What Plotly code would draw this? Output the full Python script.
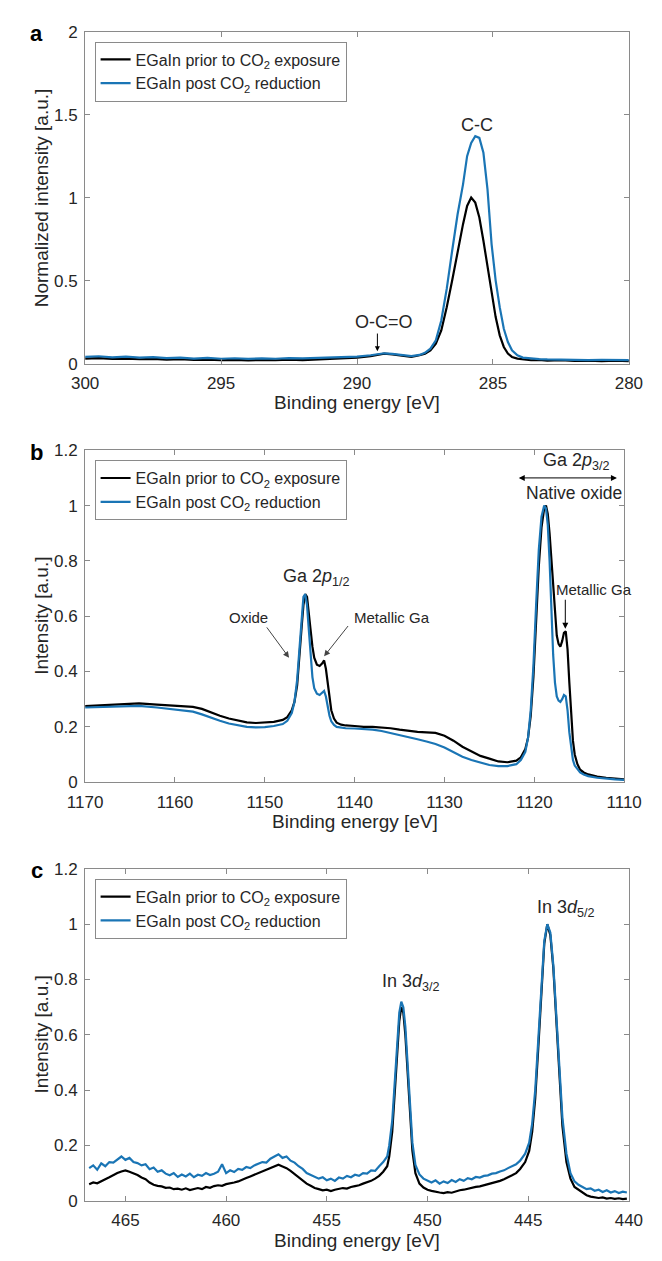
import plotly.graph_objects as go

# ---------------- Panel a: C 1s ----------------
a_x_prior = [300, 299.5, 299, 298.5, 298, 297.5, 297, 296.5, 296, 295.5, 295, 294.5, 294, 293.5, 293,
             292.5, 292, 291.5, 291, 290.5, 290, 289.5, 289.2, 289, 288.7, 288.5, 288.2, 288, 287.7,
             287.5, 287.3, 287.1, 286.9, 286.7, 286.5, 286.3, 286.1, 285.95, 285.8, 285.65, 285.5,
             285.35, 285.2, 285.05, 284.9, 284.75, 284.6, 284.45, 284.3, 284.1, 283.9, 283.6, 283.3,
             283, 282.5, 282, 281.5, 281, 280.5, 280]
a_y_prior = [0.030, 0.033, 0.028, 0.030, 0.026, 0.028, 0.024, 0.026, 0.022, 0.024, 0.020, 0.022, 0.019,
             0.022, 0.020, 0.023, 0.021, 0.025, 0.028, 0.032, 0.036, 0.045, 0.055, 0.060, 0.055, 0.050,
             0.042, 0.040, 0.050, 0.060, 0.080, 0.120, 0.200, 0.340, 0.500, 0.680, 0.840, 0.950, 1.000,
             0.970, 0.880, 0.740, 0.580, 0.420, 0.280, 0.170, 0.100, 0.060, 0.040, 0.030, 0.025, 0.020,
             0.022, 0.018, 0.020, 0.016, 0.018, 0.015, 0.017, 0.015]

a_x_post = a_x_prior
a_y_post = [0.040, 0.044, 0.038, 0.042, 0.036, 0.039, 0.033, 0.036, 0.030, 0.034, 0.029, 0.032, 0.028,
            0.031, 0.029, 0.033, 0.031, 0.034, 0.036, 0.040, 0.042, 0.050, 0.058, 0.062, 0.058, 0.055,
            0.048, 0.045, 0.052, 0.065, 0.090, 0.140, 0.260, 0.450, 0.680, 0.900, 1.080, 1.250, 1.330,
            1.370, 1.360, 1.270, 1.050, 0.720, 0.500, 0.340, 0.210, 0.130, 0.080, 0.050, 0.036, 0.030,
            0.027, 0.025, 0.023, 0.024, 0.021, 0.022, 0.020, 0.021]

# ---------------- Panel b: Ga 2p ----------------
b_x = [1170, 1168, 1166, 1164, 1162, 1160, 1158, 1157, 1156, 1155, 1154, 1153, 1152, 1151, 1150, 1149,
       1148, 1147.5, 1147, 1146.7, 1146.4, 1146.1, 1145.9, 1145.7, 1145.5, 1145.3, 1145.1, 1144.9,
       1144.7, 1144.5, 1144.2, 1143.9, 1143.6, 1143.4, 1143.2, 1143.0, 1142.8, 1142.6, 1142.3, 1142,
       1141.5, 1141, 1140, 1139, 1138, 1137, 1136, 1135, 1134, 1133, 1132, 1131, 1130, 1129, 1128,
       1127, 1126, 1125, 1124, 1123, 1122, 1121.5, 1121, 1120.7, 1120.4, 1120.1, 1119.8, 1119.5,
       1119.2, 1118.9, 1118.7, 1118.5, 1118.3, 1118.1, 1117.9, 1117.7, 1117.5, 1117.3, 1117.1,
       1116.9, 1116.7, 1116.5, 1116.3, 1116.1, 1115.9, 1115.7, 1115.5, 1115.2, 1114.9, 1114.5, 1114,
       1113, 1112, 1111, 1110]
b_y_prior = [0.275, 0.278, 0.282, 0.285, 0.280, 0.275, 0.272, 0.265, 0.252, 0.240, 0.230, 0.222, 0.216,
             0.214, 0.215, 0.218, 0.225, 0.235, 0.260, 0.290, 0.350, 0.460, 0.560, 0.640, 0.680, 0.670,
             0.620, 0.550, 0.490, 0.450, 0.425, 0.420, 0.430, 0.440, 0.410, 0.360, 0.300, 0.260, 0.230,
             0.215, 0.208, 0.205, 0.203, 0.200, 0.200, 0.198, 0.195, 0.190, 0.185, 0.182, 0.180, 0.178,
             0.168, 0.150, 0.128, 0.110, 0.095, 0.085, 0.075, 0.072, 0.078, 0.090, 0.120, 0.160, 0.240,
             0.380, 0.580, 0.780, 0.920, 0.990, 1.000, 0.970, 0.900, 0.800, 0.690, 0.600, 0.530, 0.500,
             0.490, 0.510, 0.540, 0.545, 0.480, 0.360, 0.240, 0.150, 0.100, 0.065, 0.045, 0.035, 0.028,
             0.020, 0.016, 0.012, 0.010]
b_y_post = [0.270, 0.272, 0.275, 0.276, 0.270, 0.262, 0.255, 0.245, 0.233, 0.222, 0.212, 0.205, 0.200,
            0.198, 0.199, 0.203, 0.210, 0.222, 0.250, 0.290, 0.370, 0.500, 0.600, 0.670, 0.680, 0.640,
            0.550, 0.450, 0.380, 0.340, 0.320, 0.315, 0.325, 0.330, 0.310, 0.270, 0.240, 0.220, 0.207,
            0.200, 0.197, 0.195, 0.194, 0.192, 0.190, 0.185, 0.178, 0.170, 0.163, 0.155, 0.147, 0.138,
            0.125, 0.108, 0.092, 0.080, 0.070, 0.062, 0.058, 0.058, 0.065, 0.080, 0.110, 0.160, 0.260,
            0.420, 0.640, 0.840, 0.960, 1.000, 0.990, 0.930, 0.800, 0.620, 0.460, 0.360, 0.310, 0.295,
            0.290, 0.300, 0.315, 0.310, 0.260, 0.180, 0.120, 0.080, 0.060, 0.045, 0.035, 0.028, 0.022,
            0.016, 0.012, 0.010, 0.008]

# ---------------- Panel c: In 3d ----------------
c_x = [466.8, 466.6, 466.4, 466.2, 466.0, 465.8, 465.6, 465.4, 465.2, 465.0, 464.8, 464.6, 464.4, 464.2,
       464.0, 463.8, 463.6, 463.4, 463.2, 463.0, 462.8, 462.6, 462.4, 462.2, 462.0, 461.8, 461.6, 461.4,
       461.2, 461.0, 460.8, 460.6, 460.4, 460.2, 460.0, 459.8, 459.6, 459.4, 459.2, 459.0, 458.8, 458.6,
       458.4, 458.2, 458.0, 457.8, 457.6, 457.4, 457.2, 457.0, 456.8, 456.6, 456.4, 456.2, 456.0, 455.8,
       455.6, 455.4, 455.2, 455.0, 454.8, 454.6, 454.4, 454.2, 454.0, 453.8, 453.6, 453.4, 453.2, 453.0,
       452.8, 452.6, 452.4, 452.2,
       452.0, 451.9, 451.75, 451.6, 451.5, 451.4, 451.3, 451.2, 451.1, 451.0, 450.9, 450.75, 450.6,
       450.4, 450.2, 450.0, 449.8, 449.6, 449.4, 449.2, 449.0, 448.8, 448.6, 448.4, 448.2, 448.0, 447.8,
       447.6, 447.4, 447.2, 447.0, 446.8, 446.6, 446.4, 446.2, 446.0, 445.8, 445.6,
       445.4, 445.15, 444.95, 444.8, 444.65, 444.5, 444.35, 444.2, 444.05, 443.9, 443.75, 443.6, 443.45,
       443.3, 443.1, 442.9,
       442.7, 442.5, 442.3, 442.1, 441.9, 441.7, 441.5, 441.3, 441.1, 440.9, 440.7, 440.5, 440.3, 440.1]
c_y_prior = [0.060, 0.066, 0.063, 0.072, 0.078, 0.085, 0.094, 0.100, 0.106, 0.110, 0.105, 0.100, 0.093,
             0.084, 0.078, 0.066, 0.058, 0.054, 0.052, 0.047, 0.048, 0.042, 0.044, 0.040, 0.045, 0.039,
             0.043, 0.046, 0.042, 0.050, 0.047, 0.053, 0.056, 0.054, 0.060, 0.062, 0.066, 0.070, 0.075,
             0.082, 0.088, 0.094, 0.100, 0.106, 0.112, 0.120, 0.126, 0.130, 0.124, 0.118, 0.108, 0.096,
             0.084, 0.074, 0.062, 0.054, 0.046, 0.042, 0.038, 0.040, 0.035, 0.040, 0.042, 0.046, 0.044,
             0.050, 0.053, 0.056, 0.062, 0.066, 0.072, 0.080, 0.090, 0.105,
             0.125, 0.160, 0.250, 0.420, 0.550, 0.650, 0.700, 0.680, 0.600, 0.470, 0.330, 0.180, 0.100,
             0.062, 0.048, 0.040, 0.036, 0.032, 0.030, 0.028, 0.031, 0.029, 0.034, 0.038, 0.040, 0.044,
             0.046, 0.050, 0.052, 0.056, 0.060, 0.063, 0.068, 0.072, 0.078, 0.084, 0.092, 0.100,
             0.115, 0.140, 0.180, 0.250, 0.370, 0.550, 0.760, 0.930, 1.000, 0.960, 0.840, 0.640, 0.440,
             0.270, 0.140, 0.080,
             0.050, 0.040, 0.030, 0.020, 0.015, 0.012, 0.010, 0.012, 0.008, 0.010, 0.007, 0.009, 0.006,
             0.008]
c_y_post = [0.118, 0.128, 0.112, 0.135, 0.125, 0.140, 0.138, 0.150, 0.160, 0.148, 0.155, 0.140, 0.136,
            0.128, 0.132, 0.114, 0.120, 0.105, 0.110, 0.098, 0.092, 0.100, 0.086, 0.095, 0.088, 0.098,
            0.085, 0.094, 0.090, 0.100, 0.093, 0.098, 0.105, 0.132, 0.100, 0.110, 0.104, 0.115, 0.112,
            0.122, 0.118, 0.128, 0.133, 0.140, 0.138, 0.152, 0.160, 0.168, 0.155, 0.160, 0.145, 0.138,
            0.125, 0.115, 0.100, 0.094, 0.088, 0.080, 0.085, 0.074, 0.080, 0.072, 0.084, 0.080, 0.090,
            0.085, 0.094, 0.090, 0.100, 0.098, 0.110, 0.108, 0.125, 0.140,
            0.160, 0.200, 0.290, 0.450, 0.580, 0.680, 0.720, 0.700, 0.630, 0.500, 0.360, 0.210, 0.130,
            0.095, 0.080, 0.072, 0.066, 0.074, 0.062, 0.070, 0.064, 0.075, 0.068, 0.078, 0.072, 0.082,
            0.078, 0.086, 0.084, 0.090, 0.092, 0.098, 0.100, 0.106, 0.110, 0.118, 0.124, 0.132,
            0.145, 0.170, 0.210, 0.280, 0.400, 0.580, 0.780, 0.940, 1.000, 0.970, 0.850, 0.660, 0.470,
            0.300, 0.170, 0.100,
            0.070, 0.058, 0.050, 0.042, 0.045, 0.036, 0.040, 0.032, 0.038, 0.030, 0.035, 0.028, 0.033,
            0.030]

name_prior = "EGaIn prior to CO<sub>2</sub> exposure"
name_post = "EGaIn post CO<sub>2</sub> reduction"

BLACK = "#000000"
BLUE = "#1a75b5"
AXC = "#8a8a8a"
TXT = "#262626"
FONT = "Arial, Liberation Sans, sans-serif"

W, H = 662, 1261
# pixel boxes: (left, right, top, bottom)
boxes = [(71, 646, 23, 360), (71, 641, 448, 785), (71, 646, 873, 1210)]

fig = go.Figure()

panels = [
    (a_x_prior, a_y_prior, a_x_post, a_y_post),
    (b_x, b_y_prior, b_x, b_y_post),
    (c_x, c_y_prior, c_x, c_y_post),
]
for i, (xp, yp, xq, yq) in enumerate(panels):
    sfx = "" if i == 0 else str(i + 1)
    leg = "legend" + sfx
    fig.add_trace(go.Scatter(x=xp, y=yp, mode="lines", name=name_prior,
                             line=dict(color=BLACK, width=2.2), xaxis="x" + sfx, yaxis="y" + sfx,
                             legend=leg))
    fig.add_trace(go.Scatter(x=xq, y=yq, mode="lines", name=name_post,
                             line=dict(color=BLUE, width=2.2), xaxis="x" + sfx, yaxis="y" + sfx,
                             legend=leg))

xranges = [[300, 280], [1170, 1110], [467, 440]]
xticks = [[300, 295, 290, 285, 280], [1170, 1160, 1150, 1140, 1130, 1120, 1110],
          [465, 460, 455, 450, 445, 440]]
yranges = [[0, 2], [0, 1.2], [0, 1.2]]
yticks = [[0, 0.5, 1, 1.5, 2], [0, 0.2, 0.4, 0.6, 0.8, 1, 1.2], [0, 0.2, 0.4, 0.6, 0.8, 1, 1.2]]
ytitles = ["Normalized intensity [a.u.]", "Intensity [a.u.]", "Intensity [a.u.]"]
letters = ["a", "b", "c"]

layout = dict(width=W, height=H, margin=dict(l=0, r=0, t=0, b=0),
              paper_bgcolor="white", plot_bgcolor="white", font=dict(family=FONT, color=TXT),
              showlegend=True)
annotations = []
for i, (l, r, t, b) in enumerate(boxes):
    sfx = "" if i == 0 else str(i + 1)
    common = dict(showline=True, linecolor=AXC, linewidth=1, mirror="ticks", ticks="inside",
                  ticklen=5, tickcolor=AXC, showgrid=False, zeroline=False,
                  tickfont=dict(family=FONT, size=17, color=TXT))
    layout["xaxis" + sfx] = dict(common, domain=[l / W, r / W], range=xranges[i],
                                 tickvals=xticks[i], anchor="y" + sfx, ticklabelstandoff=4)
    layout["yaxis" + sfx] = dict(common, domain=[1 - b / H, 1 - t / H], range=yranges[i],
                                 tickvals=yticks[i], anchor="x" + sfx, ticklabelstandoff=3)
    layout["legend" + sfx] = dict(x=(l + 10) / W, y=1 - (t + 10) / H, xanchor="left", yanchor="top",
                                  bgcolor="white", bordercolor=AXC, borderwidth=1,
                                  font=dict(family=FONT, size=16, color=TXT), tracegroupgap=0)
    annotations.append(dict(text="Binding energy [eV]", x=(l + r) / 2 / W, y=1 - (b + 40) / H,
                            xref="paper", yref="paper", showarrow=False,
                            font=dict(size=19, color=TXT), xanchor="center", yanchor="middle"))
    annotations.append(dict(text=ytitles[i], x=25 / W, y=1 - (t + b) / 2 / H, xref="paper",
                            yref="paper", showarrow=False, textangle=-90,
                            font=dict(size=19, color=TXT), xanchor="center", yanchor="middle"))
    annotations.append(dict(text="<b>" + letters[i] + "</b>", x=20 / W, y=1 - (t + 2) / H,
                            xref="paper", yref="paper", showarrow=False,
                            font=dict(size=22, color="#000000"), xanchor="center", yanchor="middle"))

# panel a labels
annotations += [
    dict(text="C-C", x=285.6, y=1.44, xref="x", yref="y", showarrow=False,
         font=dict(size=18, color=TXT)),
    dict(text="O-C=O", x=289.0, y=0.25, xref="x", yref="y", showarrow=False,
         font=dict(size=18, color=TXT)),
    dict(text="", x=289.25, y=0.075, ax=289.25, ay=0.19, xref="x", yref="y", axref="x", ayref="y",
         showarrow=True, arrowhead=2, arrowsize=1, arrowwidth=1, arrowcolor="#000"),
]
# panel b labels
annotations += [
    dict(text="Ga 2<i>p</i><sub>1/2</sub>", x=1144.3, y=0.74, xref="x2", yref="y2", showarrow=False,
         font=dict(size=18, color=TXT)),
    dict(text="Oxide", x=1151.8, y=0.594, xref="x2", yref="y2", showarrow=False,
         font=dict(size=15, color=TXT)),
    dict(text="", x=1147.3, y=0.45, ax=1149.9, ay=0.565, xref="x2", yref="y2", axref="x2",
         ayref="y2", showarrow=True, arrowhead=2, arrowsize=1.2, arrowwidth=1, arrowcolor="#444"),
    dict(text="Metallic Ga", x=1135.8, y=0.594, xref="x2", yref="y2", showarrow=False,
         font=dict(size=15, color=TXT)),
    dict(text="", x=1143.4, y=0.455, ax=1140.6, ay=0.57, xref="x2", yref="y2", axref="x2",
         ayref="y2", showarrow=True, arrowhead=2, arrowsize=1.2, arrowwidth=1, arrowcolor="#444"),
    dict(text="Ga 2<i>p</i><sub>3/2</sub>", x=1115.3, y=1.16, xref="x2", yref="y2", showarrow=False,
         font=dict(size=18, color=TXT)),
    dict(text="", x=1110.8, y=1.1, ax=1121.9, ay=1.1, xref="x2", yref="y2", axref="x2", ayref="y2",
         showarrow=True, arrowhead=2, startarrowhead=2, arrowside="end+start", arrowsize=1.2,
         arrowwidth=1, arrowcolor="#000"),
    dict(text="Native oxide", x=1115.6, y=1.045, xref="x2", yref="y2", showarrow=False,
         font=dict(size=17.5, color=TXT)),
    dict(text="Metallic Ga", x=1113.4, y=0.695, xref="x2", yref="y2", showarrow=False,
         font=dict(size=15, color=TXT)),
    dict(text="", x=1116.55, y=0.555, ax=1116.55, ay=0.665, xref="x2", yref="y2", axref="x2",
         ayref="y2", showarrow=True, arrowhead=2, arrowsize=1.2, arrowwidth=1, arrowcolor="#000"),
]
# panel c labels
annotations += [
    dict(text="In 3<i>d</i><sub>3/2</sub>", x=450.8, y=0.79, xref="x3", yref="y3", showarrow=False,
         font=dict(size=18, color=TXT)),
    dict(text="In 3<i>d</i><sub>5/2</sub>", x=443.1, y=1.057, xref="x3", yref="y3", showarrow=False,
         font=dict(size=18, color=TXT)),
]
layout["annotations"] = annotations
fig.update_layout(**layout)
fig.write_html("out.html")
